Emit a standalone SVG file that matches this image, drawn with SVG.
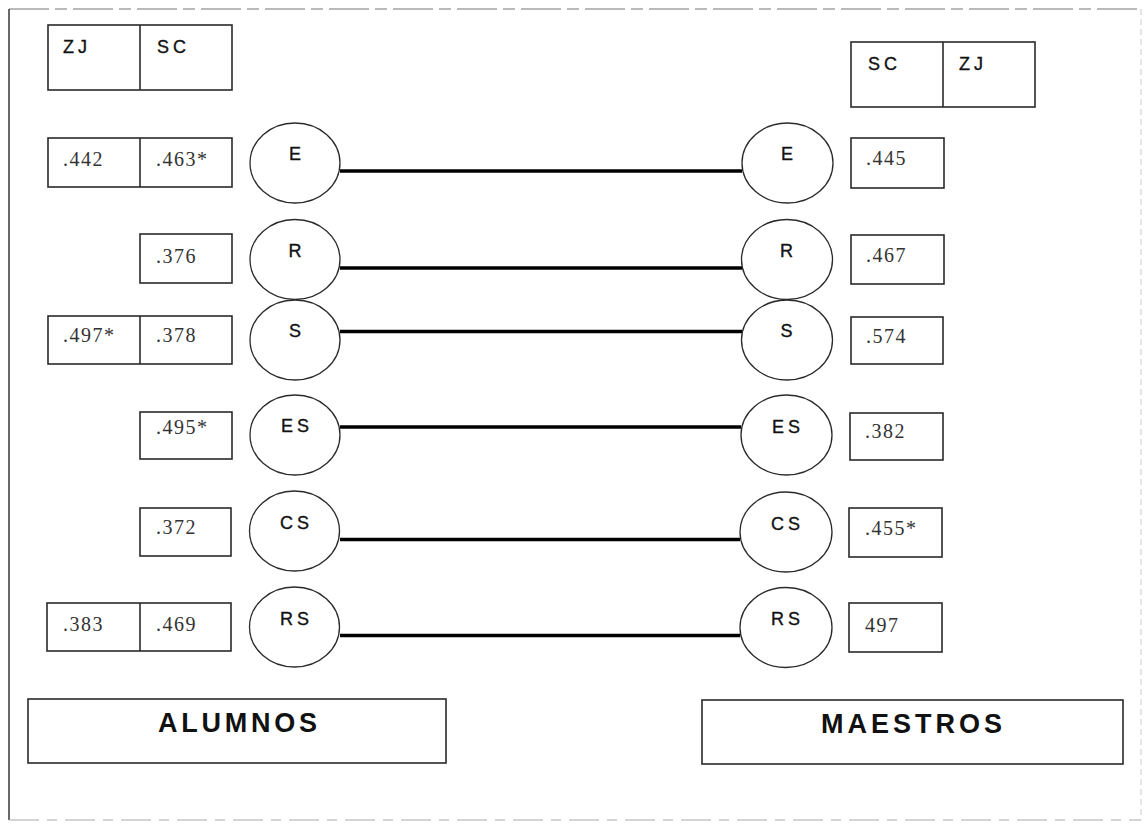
<svg xmlns="http://www.w3.org/2000/svg" width="1145" height="827" viewBox="0 0 1145 827">
<style>
.bx{fill:#fff;stroke:#2a2a2a;stroke-width:1.6}
.dv{stroke:#2a2a2a;stroke-width:1.6}
.el{fill:#fff;stroke:#2a2a2a;stroke-width:1.3}
.lb{font-family:"Liberation Sans",Arial,sans-serif;font-size:18px;letter-spacing:4px;fill:#111;stroke:#111;stroke-width:0.35}
.el-t{font-family:"Liberation Sans",Arial,sans-serif;font-size:18px;letter-spacing:4px;fill:#111;stroke:#111;stroke-width:0.35;text-anchor:middle}
.nm{font-family:"Liberation Serif","Times New Roman",serif;font-size:20px;letter-spacing:1.5px;fill:#333}
.big{font-family:"Liberation Sans",Arial,sans-serif;font-size:27px;font-weight:bold;fill:#111}
.cn{stroke:#000;stroke-width:3.5;fill:none}
</style>
<rect width="1145" height="827" fill="#fff"/>
<g id="frame" fill="none">
<line x1="9" y1="9" x2="1141" y2="9" stroke="#777" stroke-width="1.2" stroke-dasharray="40 6 12 6"/>
<line x1="9" y1="9" x2="9" y2="820" stroke="#444" stroke-width="1.6"/>
<line x1="9" y1="820" x2="1141" y2="820" stroke="#aaa" stroke-width="1.2" stroke-dasharray="30 8 10 8"/>
<line x1="1141" y1="9" x2="1141" y2="820" stroke="#ccc" stroke-width="1" stroke-dasharray="6 4"/>
</g>
<g id="connectors">
<line class="cn" x1="340" y1="171" x2="742" y2="171"/>
<line class="cn" x1="340" y1="268" x2="742" y2="268"/>
<line class="cn" x1="340" y1="331.5" x2="742" y2="331.5"/>
<line class="cn" x1="340" y1="427" x2="741" y2="427"/>
<line class="cn" x1="340" y1="539.5" x2="740" y2="539.5"/>
<line class="cn" x1="340" y1="635.5" x2="740" y2="635.5"/>
</g>
<g id="left-header">
<rect class="bx" x="48" y="25" width="184" height="65"/>
<line class="dv" x1="140" y1="25" x2="140" y2="90"/>
<text class="lb" x="63" y="53">ZJ</text>
<text class="lb" x="157" y="53">SC</text>
</g>
<g id="right-header">
<rect class="bx" x="851" y="42" width="184" height="65"/>
<line class="dv" x1="943" y1="42" x2="943" y2="107"/>
<text class="lb" x="868" y="70">SC</text>
<text class="lb" x="959" y="70">ZJ</text>
</g>
<g id="left-E-values">
<rect class="bx" x="48" y="138" width="184" height="49"/>
<line class="dv" x1="140" y1="138" x2="140" y2="187"/>
<text class="nm" x="63" y="166">.442</text>
<text class="nm" x="156" y="166">.463*</text>
</g>
<g id="left-R-values">
<rect class="bx" x="140" y="234" width="92" height="49"/>
<text class="nm" x="156" y="263">.376</text>
</g>
<g id="left-S-values">
<rect class="bx" x="48" y="316" width="184" height="48"/>
<line class="dv" x1="140" y1="316" x2="140" y2="364"/>
<text class="nm" x="63" y="342">.497*</text>
<text class="nm" x="156" y="342">.378</text>
</g>
<g id="left-ES-values">
<rect class="bx" x="140" y="412" width="92" height="47"/>
<text class="nm" x="156" y="434">.495*</text>
</g>
<g id="left-CS-values">
<rect class="bx" x="140" y="508" width="91" height="48"/>
<text class="nm" x="156" y="534">.372</text>
</g>
<g id="left-RS-values">
<rect class="bx" x="47" y="603" width="184" height="48"/>
<line class="dv" x1="140" y1="603" x2="140" y2="651"/>
<text class="nm" x="63" y="631">.383</text>
<text class="nm" x="156" y="631">.469</text>
</g>
<g id="left-E"><ellipse class="el" cx="295" cy="163" rx="45" ry="40"/><text class="el-t" x="297" y="160">E</text></g>
<g id="left-R"><ellipse class="el" cx="295" cy="259.5" rx="45" ry="40"/><text class="el-t" x="297" y="257">R</text></g>
<g id="left-S"><ellipse class="el" cx="295" cy="340" rx="45" ry="40"/><text class="el-t" x="297" y="337">S</text></g>
<g id="left-ES"><ellipse class="el" cx="295" cy="435" rx="45" ry="40"/><text class="el-t" x="297" y="432">ES</text></g>
<g id="left-CS"><ellipse class="el" cx="294.5" cy="531" rx="45" ry="40"/><text class="el-t" x="296.5" y="529">CS</text></g>
<g id="left-RS"><ellipse class="el" cx="294.5" cy="627" rx="45" ry="40"/><text class="el-t" x="296.5" y="625">RS</text></g>
<g id="right-E"><ellipse class="el" cx="787.5" cy="163" rx="45.5" ry="40"/><text class="el-t" x="789" y="160">E</text></g>
<g id="right-R"><ellipse class="el" cx="787" cy="259.5" rx="45.5" ry="40"/><text class="el-t" x="788.5" y="257">R</text></g>
<g id="right-S"><ellipse class="el" cx="787" cy="340" rx="45.5" ry="40"/><text class="el-t" x="788.5" y="337">S</text></g>
<g id="right-ES"><ellipse class="el" cx="786.5" cy="435" rx="45.5" ry="40"/><text class="el-t" x="788" y="433">ES</text></g>
<g id="right-CS"><ellipse class="el" cx="786" cy="532" rx="46" ry="40"/><text class="el-t" x="787.5" y="530">CS</text></g>
<g id="right-RS"><ellipse class="el" cx="786" cy="627.5" rx="46" ry="40"/><text class="el-t" x="787.5" y="625">RS</text></g>
<g id="right-E-value"><rect class="bx" x="851" y="138" width="93" height="50"/><text class="nm" x="866" y="165">.445</text></g>
<g id="right-R-value"><rect class="bx" x="851" y="235" width="93" height="49"/><text class="nm" x="866" y="262">.467</text></g>
<g id="right-S-value"><rect class="bx" x="851" y="317" width="92" height="47"/><text class="nm" x="866" y="343">.574</text></g>
<g id="right-ES-value"><rect class="bx" x="850" y="413" width="93" height="47"/><text class="nm" x="865" y="438">.382</text></g>
<g id="right-CS-value"><rect class="bx" x="849" y="508" width="93" height="49"/><text class="nm" x="865" y="535">.455*</text></g>
<g id="right-RS-value"><rect class="bx" x="849" y="603" width="93" height="49"/><text class="nm" x="865" y="632">497</text></g>
<g id="alumnos">
<rect class="bx" x="28" y="699" width="418" height="64"/>
<text class="big" x="158" y="732" textLength="159" lengthAdjust="spacing">ALUMNOS</text>
</g>
<g id="maestros">
<rect class="bx" x="702" y="700" width="421" height="64"/>
<text class="big" x="821" y="733" textLength="181" lengthAdjust="spacing">MAESTROS</text>
</g>
</svg>
